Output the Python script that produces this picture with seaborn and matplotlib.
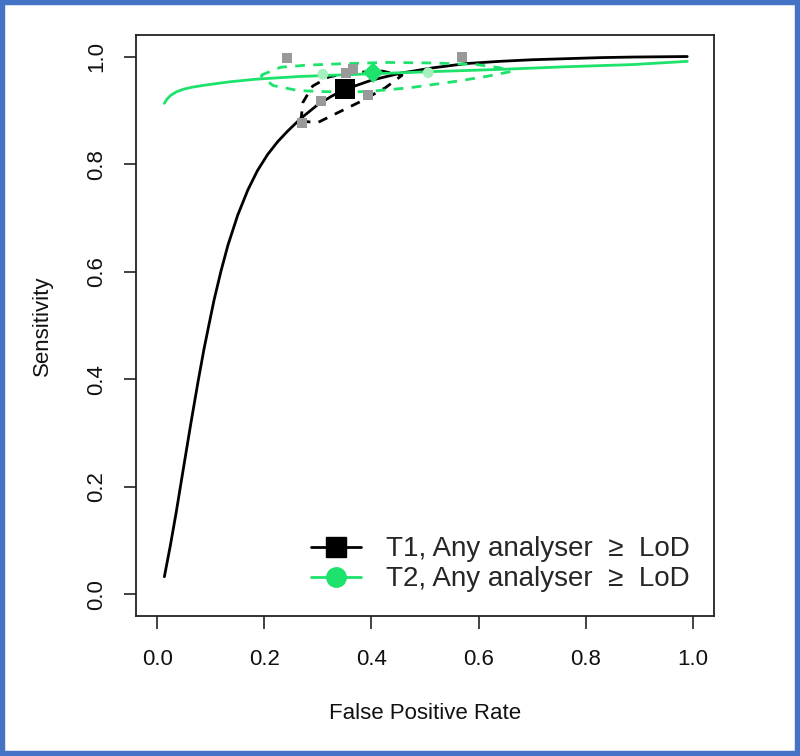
import numpy as np
import pandas as pd
import matplotlib
matplotlib.use('Agg')
import matplotlib.pyplot as plt
from matplotlib.lines import Line2D
from matplotlib.patches import Rectangle
import seaborn as sns

# --- values ---

# SROC curve, T1 (black)
t1_curve_fpr = [0.013, 0.024, 0.035, 0.050, 0.063, 0.076, 0.087, 0.096, 0.106, 0.119,
                0.132, 0.150, 0.169, 0.187, 0.206, 0.225, 0.243, 0.268, 0.299, 0.325,
                0.351, 0.400, 0.454, 0.515, 0.578, 0.639, 0.700, 0.764, 0.830, 0.887, 0.990]
t1_curve_sens = [0.033, 0.090, 0.152, 0.243, 0.321, 0.396, 0.456, 0.500, 0.548, 0.602,
                 0.650, 0.705, 0.752, 0.788, 0.818, 0.842, 0.861, 0.885, 0.910, 0.926,
                 0.939, 0.956, 0.969, 0.979, 0.987, 0.991, 0.994, 0.996, 0.998, 0.999, 1.000]

# SROC curve, T2 (green)
t2_curve_fpr = [0.013, 0.018, 0.025, 0.035, 0.048, 0.065, 0.090, 0.135, 0.186, 0.268,
                0.403, 0.515, 0.639, 0.764, 0.887, 0.990]
t2_curve_sens = [0.913, 0.921, 0.928, 0.934, 0.939, 0.943, 0.947, 0.953, 0.958, 0.963,
                 0.968, 0.972, 0.976, 0.981, 0.985, 0.991]

# confidence regions (dashed)
t1_region_fpr = [0.268, 0.272, 0.290, 0.320, 0.360, 0.420, 0.457, 0.426, 0.379, 0.342, 0.299, 0.268]
t1_region_sens = [0.880, 0.915, 0.945, 0.962, 0.970, 0.973, 0.965, 0.942, 0.916, 0.898, 0.877, 0.880]

t2_region_fpr = [0.193, 0.230, 0.280, 0.329, 0.429, 0.515, 0.597, 0.640, 0.660, 0.615,
                 0.559, 0.472, 0.394, 0.348, 0.300, 0.262, 0.216, 0.193]
t2_region_sens = [0.965, 0.980, 0.984, 0.986, 0.989, 0.988, 0.985, 0.979, 0.972, 0.963,
                  0.954, 0.942, 0.935, 0.934, 0.935, 0.937, 0.946, 0.965]

# individual studies
t1_study_fpr = [0.242, 0.271, 0.305, 0.353, 0.366, 0.394, 0.569]
t1_study_sens = [0.998, 0.877, 0.918, 0.970, 0.976, 0.929, 1.000]
t2_study_fpr = [0.309, 0.506]
t2_study_sens = [0.967, 0.970]

# summary estimates
t1_summary = (0.351, 0.940)
t2_summary = (0.403, 0.970)

legend_labels = ['T1, Any analyser  \u2265  LoD', 'T2, Any analyser  \u2265  LoD']
tick_values = [0.0, 0.2, 0.4, 0.6, 0.8, 1.0]

GREEN = '#1DE26C'
PALE_GREEN = '#A6F0BE'

sns.set_style('ticks')
plt.rcParams['font.family'] = ['Liberation Sans', 'DejaVu Sans']
plt.rcParams['lines.dashed_pattern'] = [3.5, 3]

fig = plt.figure(figsize=(8, 7.56), dpi=100)
ax = fig.add_axes([0.17, 0.1852, 0.7225, 0.7685])

# T1 first
sns.lineplot(x=t1_curve_fpr, y=t1_curve_sens, sort=False, estimator=None,
             color='black', lw=2, ax=ax)
sns.lineplot(x=t1_region_fpr, y=t1_region_sens, sort=False, estimator=None,
             color='black', lw=2, linestyle='--', ax=ax)
sns.scatterplot(x=t1_study_fpr, y=t1_study_sens, marker='s', s=52,
                color='#999999', edgecolor='none', ax=ax, zorder=3)
sns.scatterplot(x=[t1_summary[0]], y=[t1_summary[1]], marker='s', s=210,
                color='black', edgecolor='none', ax=ax, zorder=4)

# then T2
sns.scatterplot(x=t2_study_fpr, y=t2_study_sens, marker='o', s=60,
                color=PALE_GREEN, edgecolor='none', ax=ax, zorder=3)
sns.lineplot(x=t2_curve_fpr, y=t2_curve_sens, sort=False, estimator=None,
             color=GREEN, lw=2, ax=ax)
sns.lineplot(x=t2_region_fpr, y=t2_region_sens, sort=False, estimator=None,
             color=GREEN, lw=2, linestyle='--', ax=ax)
sns.scatterplot(x=[t2_summary[0]], y=[t2_summary[1]], marker='D', s=110,
                color=GREEN, edgecolor='none', ax=ax, zorder=5)

ax.set_xlim(-0.04, 1.04)
ax.set_ylim(-0.04, 1.04)
ax.set_xticks(tick_values)
ax.set_yticks(tick_values)
ax.set_xticklabels(['%.1f' % v for v in tick_values])
ax.set_yticklabels(['%.1f' % v for v in tick_values])

for sp in ax.spines.values():
    sp.set_visible(True)
    sp.set_color('#222222')
    sp.set_linewidth(1.3)
ax.tick_params(axis='both', length=9, width=1.2, color='#222222', labelsize=16, labelcolor='#111111')
ax.tick_params(axis='x', pad=15)
ax.tick_params(axis='y', pad=12, labelrotation=90)
for lbl in ax.get_yticklabels():
    lbl.set_va('center')

ax.set_xlabel('False Positive Rate', fontsize=16, color='#111111')
ax.set_ylabel('Sensitivity', fontsize=16, color='#111111')
ax.xaxis.set_label_coords(0.5, -0.15)
ax.yaxis.set_label_coords(-0.143, 0.5)

handles = [Line2D([0], [0], color='black', lw=2, marker='s', markersize=14),
           Line2D([0], [0], color=GREEN, lw=2, marker='o', markersize=14)]
ax.legend(handles=handles, labels=legend_labels, loc='lower right',
          bbox_to_anchor=(0.968, 0.031), frameon=False, fontsize=20,
          handlelength=1.8, handletextpad=0.9, labelspacing=0.15,
          borderaxespad=0, borderpad=0.2)

# blue frame round the whole picture
fig.patches.append(Rectangle((0, 0), 1, 1, transform=fig.transFigure, fill=False,
                             edgecolor='#4472C4', lw=7.5))

fig.savefig('out.png', dpi=100)
